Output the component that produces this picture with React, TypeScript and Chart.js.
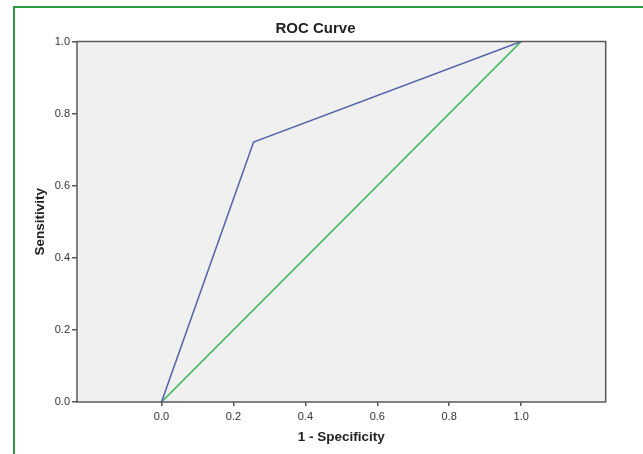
import React, { useEffect, useRef } from "react";
import { Chart, registerables } from "chart.js";

Chart.register(...registerables);

// ROC curve data (1 - specificity, sensitivity)
const rocX = [0, 0.256, 1];
const rocY = [0, 0.721, 1];
// Reference (chance) diagonal
const refX = [0, 1];
const refY = [0, 1];
// Tick values
const xTickValues = [0, 0.2, 0.4, 0.6, 0.8, 1.0];
const yTickValues = [0, 0.2, 0.4, 0.6, 0.8, 1.0];

const chartTitle = "ROC Curve";
const xTitle = "1 - Specificity";
const yTitle = "Sensitivity";

const FONT = "'Liberation Sans', Arial, sans-serif";

const plotFrame = {
  id: "plotFrame",
  beforeDatasetsDraw(chart: any) {
    const { ctx, chartArea: a } = chart;
    ctx.save();
    ctx.fillStyle = "#f0f0f0";
    ctx.fillRect(a.left, a.top, a.right - a.left, a.bottom - a.top);
    ctx.restore();
  },
  afterDatasetsDraw(chart: any) {
    const { ctx, chartArea: a } = chart;
    ctx.save();
    ctx.strokeStyle = "#5a5a5a";
    ctx.lineWidth = 1.5;
    ctx.strokeRect(a.left, a.top, a.right - a.left, a.bottom - a.top);
    ctx.restore();
  },
};

export default function App() {
  const ref = useRef<HTMLCanvasElement | null>(null);

  useEffect(() => {
    if (!ref.current) return;
    const chart = new Chart(ref.current, {
      type: "scatter",
      data: {
        datasets: [
          {
            label: "ROC",
            data: rocX.map((x, i) => ({ x, y: rocY[i] })),
            showLine: true,
            borderColor: "#5a66aa",
            backgroundColor: "#5a66aa",
            borderWidth: 1.6,
            pointRadius: 0,
            tension: 0,
          },
          {
            label: "Reference",
            data: refX.map((x, i) => ({ x, y: refY[i] })),
            showLine: true,
            borderColor: "#3fb75a",
            backgroundColor: "#3fb75a",
            borderWidth: 1.6,
            pointRadius: 0,
            tension: 0,
          },
        ],
      },
      options: {
        responsive: false,
        animation: false,
        devicePixelRatio: 1,
        layout: { padding: { left: 0, top: 0, right: 12, bottom: 0 } },
        plugins: {
          legend: { display: false },
          tooltip: { enabled: false },
          title: {
            display: true,
            text: chartTitle,
            color: "#222",
            font: { family: FONT, size: 15, weight: "bold" },
            padding: { top: 20, bottom: 3.5 },
          },
        },
        scales: {
          x: {
            type: "linear",
            position: "bottom",
            min: -0.235,
            max: 1.235,
            afterBuildTicks: (scale: any) => {
              scale.ticks = xTickValues.map((v) => ({ value: v }));
            },
            afterFit: (scale: any) => {
              scale.height = 52;
            },
            grid: {
              display: true,
              drawOnChartArea: false,
              drawTicks: true,
              tickLength: 4,
              color: "#555",
              lineWidth: 1.5,
            },
            border: { display: false },
            ticks: {
              color: "#333",
              font: { family: FONT, size: 11 },
              padding: 4,
              maxRotation: 0,
              autoSkip: false,
              callback: (v: any) => Number(v).toFixed(1),
            },
            title: {
              display: true,
              text: xTitle,
              color: "#222",
              font: { family: FONT, size: 13.5, weight: "bold" },
              padding: { top: 0, bottom: 9 },
            },
          },
          y: {
            type: "linear",
            position: "left",
            min: 0,
            max: 1,
            afterBuildTicks: (scale: any) => {
              scale.ticks = yTickValues.map((v) => ({ value: v }));
            },
            afterFit: (scale: any) => {
              scale.width = 77;
            },
            grid: {
              display: true,
              drawOnChartArea: false,
              drawTicks: true,
              tickLength: 5,
              color: "#555",
              lineWidth: 1.5,
            },
            border: { display: false },
            ticks: {
              color: "#333",
              font: { family: FONT, size: 11 },
              padding: 2,
              autoSkip: false,
              callback: (v: any) => Number(v).toFixed(1),
            },
            title: {
              display: true,
              text: yTitle,
              color: "#222",
              font: { family: FONT, size: 13.5, weight: "bold" },
              padding: { top: 32, bottom: 0 },
            },
          },
          yRight: {
            type: "linear",
            position: "right",
            display: true,
            grid: { display: false },
            border: { display: false },
            ticks: { display: false },
            afterFit: (scale: any) => {
              scale.width = 25.3;
            },
          },
        },
      },
      plugins: [plotFrame],
    } as any);
    return () => chart.destroy();
  }, []);

  return (
    <div
      style={{
        position: "fixed",
        left: 0,
        top: 0,
        width: 643,
        height: 454,
        background: "#fff",
        overflow: "hidden",
      }}
    >
      <div
        style={{
          position: "absolute",
          left: 13,
          top: 6,
          width: 640,
          height: 460,
          borderLeft: "2px solid #2f9a3c",
          borderTop: "2px solid #2f9a3c",
          boxSizing: "border-box",
        }}
      />
      <canvas
        ref={ref}
        width={643}
        height={454}
        style={{ position: "absolute", left: 0, top: 0, width: 643, height: 454 }}
      />
    </div>
  );
}
